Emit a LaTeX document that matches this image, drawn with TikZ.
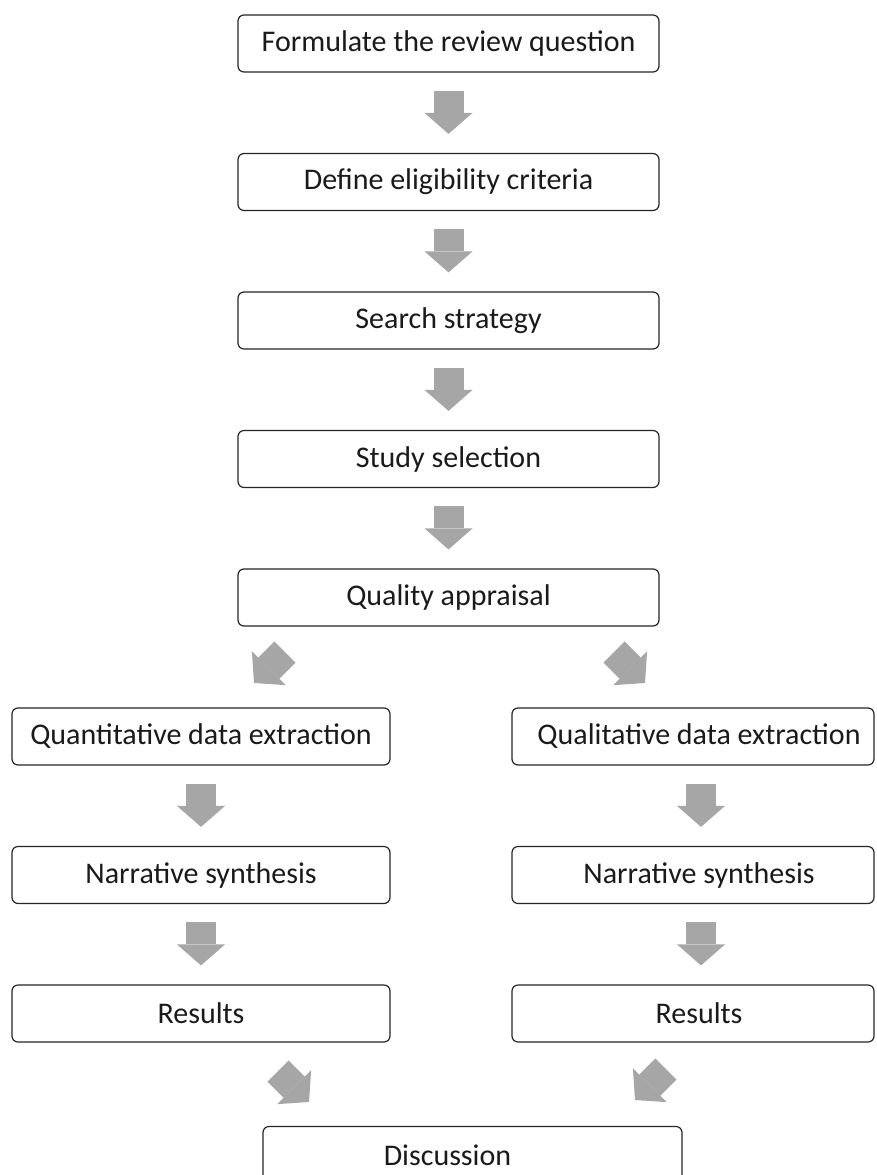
\documentclass[tikz,border=0pt]{standalone}
\usepackage{fontspec}
\setmainfont{Carlito}
\usetikzlibrary{arrows.meta}
\definecolor{arrowgrey}{HTML}{A6A6A6}
\definecolor{boxline}{HTML}{262626}
\definecolor{txt}{HTML}{1A1A1A}
\begin{document}
\begin{tikzpicture}[x=1pt,y=1pt,
  box/.style={draw=boxline, line width=1.2pt, rounded corners=6pt, minimum height=57pt,
    inner sep=0pt, font=\fontsize{30}{36}\selectfont, text=txt},
  cbox/.style={box, minimum width=421pt},
  lbox/.style={box, minimum width=378pt},
  rbox/.style={box, minimum width=362pt},
  barrow/.style={arrowgrey, line width=30pt, -{Triangle[length=21pt, width=48pt, line width=0pt]}},
  vconn/.style={barrow, shorten <=18pt, shorten >=19pt}
]
\useasboundingbox (0,0) rectangle (877,-1175);
\fill[white] (0,0) rectangle (877,-1175);
% centre column
\node[cbox] (q)   at (448.5,-43.5) {Formulate the review question};
\node[cbox] (e)   at (448.5,-182)  {Define eligibility criteria};
\node[cbox] (s)   at (448.5,-320.5){Search strategy};
\node[cbox] (sel) at (448.5,-459)  {Study selection};
\node[cbox] (qa)  at (448.5,-597.5){Quality appraisal};
% left column
\node[lbox] (lx) at (201,-736.5) {Quantitative data extraction};
\node[lbox] (ln) at (201,-875)   {Narrative synthesis};
\node[lbox] (lr) at (201,-1013.5){Results};
% right column
\node[rbox] (rx) at (693,-736.5) {\hspace*{12pt}Qualitative data extraction};
\node[rbox] (rn) at (693,-875)   {\hspace*{12pt}Narrative synthesis};
\node[rbox] (rr) at (693,-1013.5){\hspace*{12pt}Results};
% discussion
\node[box, minimum width=419pt] (d) at (472.5,-1155) {\hspace*{-50pt}Discussion};
% vertical connectors
\draw[vconn] (q.south) -- (e.north);
\draw[vconn] (e.south) -- (s.north);
\draw[vconn] (s.south) -- (sel.north);
\draw[vconn] (sel.south) -- (qa.north);
\draw[vconn] (lx.south) -- (ln.north);
\draw[vconn] (ln.south) -- (lr.north);
\draw[vconn] ([xshift=8pt]rx.south) -- ([xshift=8pt]rn.north);
\draw[vconn] ([xshift=8pt]rn.south) -- ([xshift=8pt]rr.north);
% diagonal connectors
\coordinate (a1s) at (285,-652);
\coordinate (a1t) at (254,-683);
\coordinate (a2s) at (614,-652);
\coordinate (a2t) at (645,-683);
\coordinate (a3s) at (278,-1071);
\coordinate (a3t) at (309,-1102);
\coordinate (a4s) at (666,-1069);
\coordinate (a4t) at (635,-1100);
\draw[barrow] (a1s) -- (a1t);
\draw[barrow] (a2s) -- (a2t);
\draw[barrow] (a3s) -- (a3t);
\draw[barrow] (a4s) -- (a4t);
\end{tikzpicture}
\end{document}
